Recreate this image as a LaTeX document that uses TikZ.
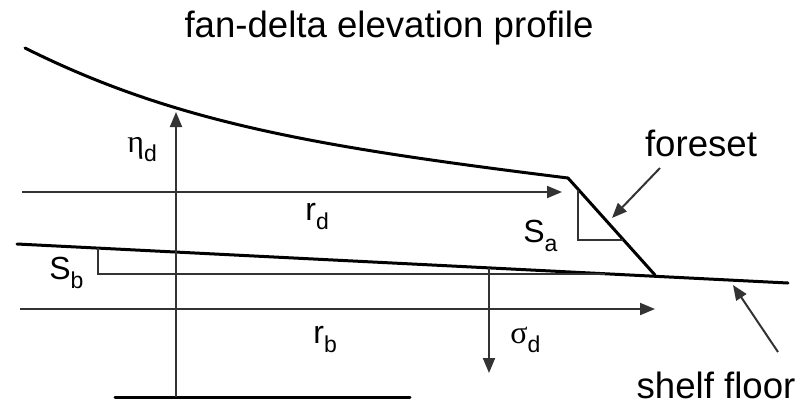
\documentclass[tikz,border=0pt]{standalone}
\usepackage{fontspec}
\setmainfont{Liberation Sans}
\newfontfamily\greekfont{Liberation Serif}
\usetikzlibrary{arrows.meta}
\tikzset{
  bed/.style={draw=black, line width=1.5pt, line join=round, line cap=round},
  guide/.style={draw=black!80, line width=1pt},
  arr/.style={guide, -{Triangle[length=7.5pt,width=6pt]}},
  lbl/.style={inner sep=0pt, anchor=base west, font=\fontsize{16}{18}\selectfont},
  txt/.style={inner sep=0pt, anchor=base, font=\fontsize{18.3}{22}\selectfont}
}
\newcommand{\lsub}[1]{\raisebox{-4.5pt}{\fontsize{11.5}{13}\selectfont #1}}

\begin{document}
\begin{tikzpicture}[x=0.5pt, y=-0.5pt]
  \useasboundingbox (0,0) rectangle (799,404);

  % profile points
  \coordinate (top) at (25,48);
  \coordinate (apex) at (568,178);
  \coordinate (toe) at (655,275);
  \coordinate (floorw) at (17,244);
  \coordinate (floore) at (788,283);

  % fan surface and foreset
  \draw[bed] (top) .. controls (175,123) and (318,147) .. (apex);
  \draw[bed] (apex) -- (toe);
  \draw[bed] (floorw) -- (floore);
  \draw[bed] (115,397) coordinate (basew) -- (410,397) coordinate (basee);

  % radius arrows
  \coordinate (rdw) at (22,192);  \coordinate (rde) at (562,192);
  \coordinate (rbw) at (20,309);  \coordinate (rbe) at (655,309);
  \draw[arr] (rdw) -- (rde);
  \draw[arr] (rbw) -- (rbe);

  % elevation and subsidence arrows
  \coordinate (etab) at (176,397); \coordinate (etat) at (176,112);
  \draw[arr] (etab) -- (etat);
  \coordinate (sigt) at (489,268); \coordinate (sigb) at (489,373);
  \draw[arr] (sigt) -- (sigb);

  % slope triangles
  \draw[guide] (578,190) -- (578,240) -- (623,240);
  \draw[guide] (98,248) -- (98,274) -- (605,274);

  % labels
  \node[txt] (title) at (389,37) {fan-delta elevation profile};
  \node[txt] (foreset) at (701,156) {foreset};
  \node[txt] (shelf) at (716,398) {shelf floor};
  \coordinate (fsarr) at (612,218);
  \coordinate (sfarr) at (733,285);
  \draw[arr] (660,168) -- (fsarr);
  \draw[arr] (778,352) -- (sfarr);

  \node[lbl] (etad) at (127,152) {{\greekfont η}\lsub{d}};
  \node[lbl] (rd) at (305,220) {r\lsub{d}};
  \node[lbl] (sa) at (523,242) {S\lsub{a}};
  \node[lbl] (sb) at (49,279) {S\lsub{b}};
  \node[lbl] (rb) at (313,343) {r\lsub{b}};
  \node[lbl] (sigd) at (510,343) {{\greekfont σ}\lsub{d}};
\end{tikzpicture}
\end{document}
